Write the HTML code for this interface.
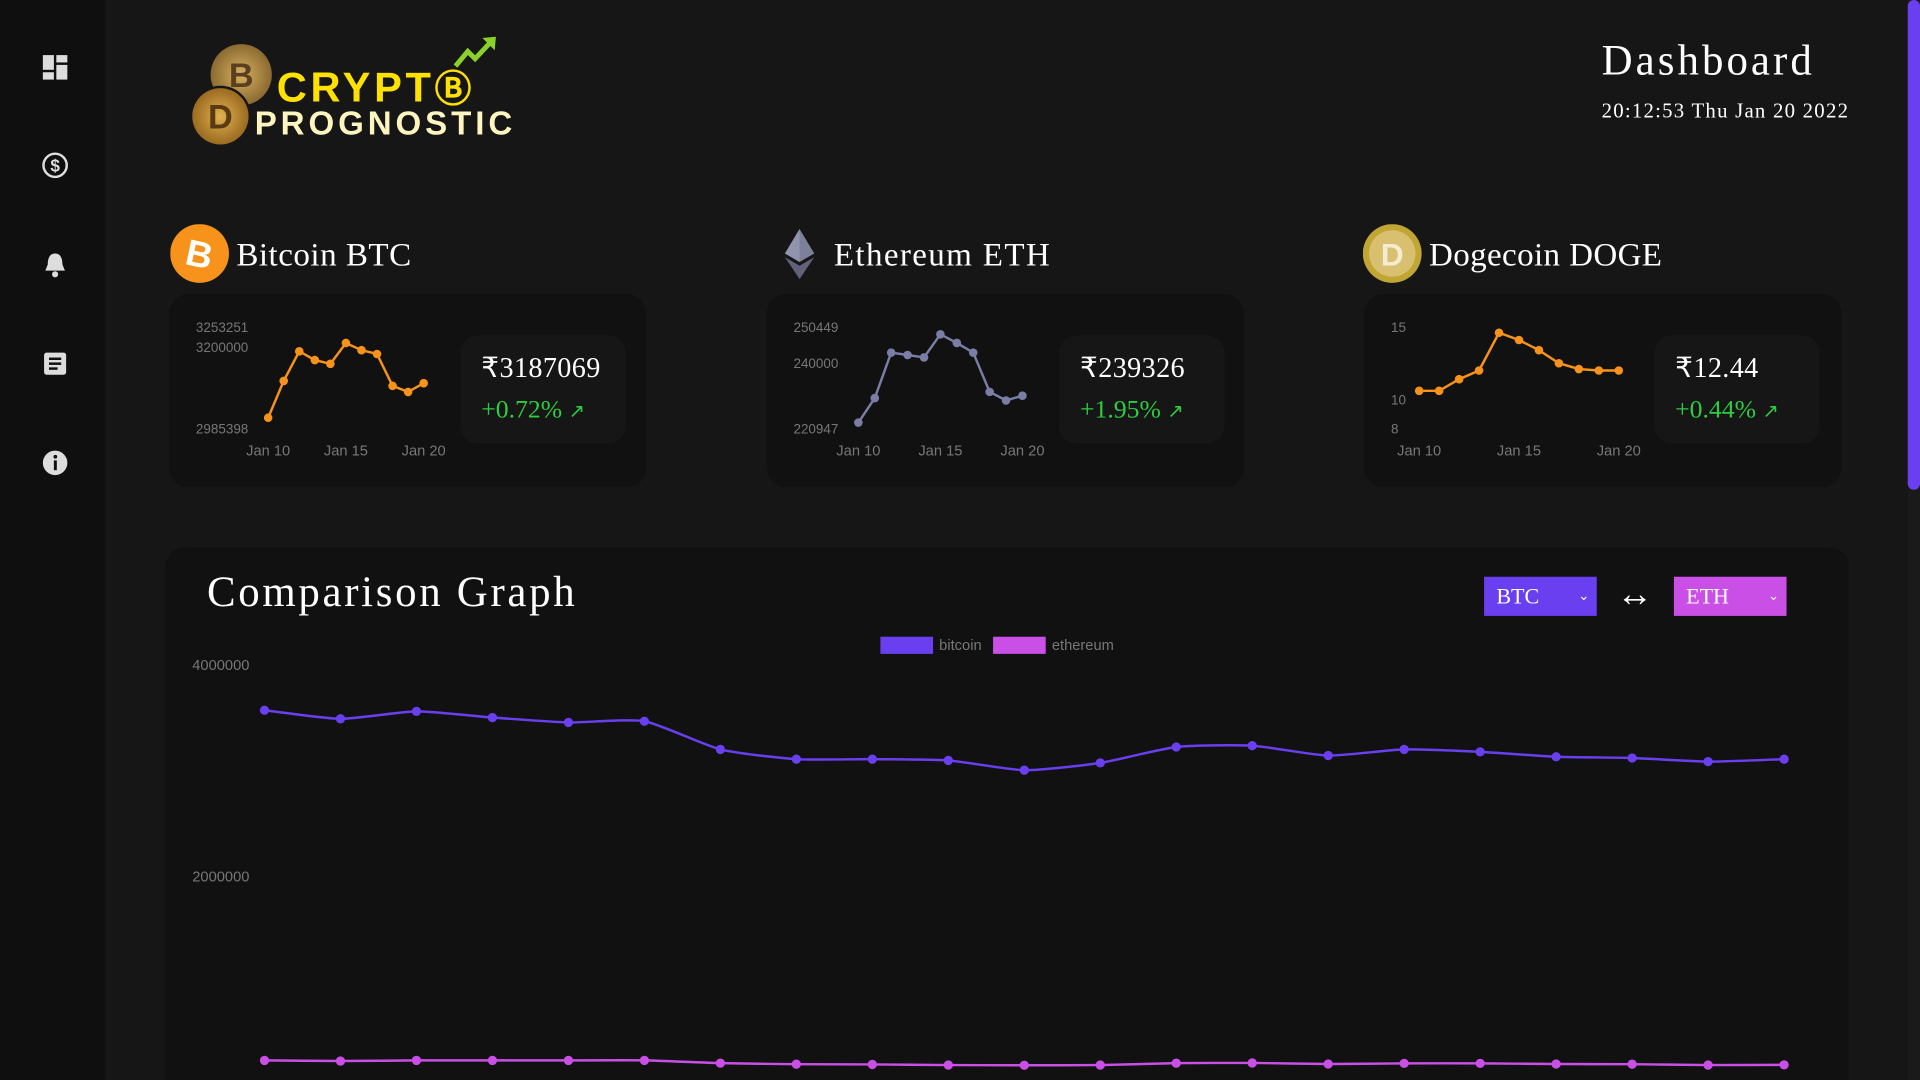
<!DOCTYPE html>
<html><head><meta charset="utf-8">
<style>
html,body{margin:0;padding:0;width:1920px;height:1080px;overflow:hidden;background:#161616;}
#wrap{position:absolute;left:0;top:0;width:1568px;height:882px;overflow:hidden;transform:scale(1.224490);transform-origin:0 0;background:#161616;font-family:"Liberation Sans",sans-serif;}
.abs{position:absolute;}
.serif{font-family:"Liberation Serif",serif;color:#fff;}
.card{position:absolute;top:240px;width:390px;height:158px;background:#111;border-radius:16px;}
.pbox{position:absolute;top:34px;width:135px;height:88px;background:#161616;border-radius:14px;}
.price{position:absolute;left:17px;top:14px;font-size:23px;letter-spacing:0.3px;}
.chg{position:absolute;left:17px;top:48px;font-size:21px;color:#2ecc40;font-family:"Liberation Serif",serif;}
.coin-title{position:absolute;top:193px;font-size:27px;}
svg text{font-family:"Liberation Sans",sans-serif;}
</style></head><body>
<div id="wrap">
<div class="abs" style="left:0;top:0;width:86px;height:882px;background:#0f0f0f">
  <svg class="abs" style="left:34px;top:44px" width="22" height="22"><rect x="1" y="1" width="9" height="12" fill="#ddd"/><rect x="12" y="1" width="9" height="6" fill="#ddd"/><rect x="1" y="15" width="9" height="6" fill="#ddd"/><rect x="12" y="9" width="9" height="12" fill="#ddd"/></svg>
  <svg class="abs" style="left:34px;top:124px" width="22" height="22"><circle cx="11" cy="11" r="9.5" fill="none" stroke="#ddd" stroke-width="2"/><text x="11" y="16" text-anchor="middle" font-size="14" font-weight="bold" fill="#ddd">$</text></svg>
  <svg class="abs" style="left:34px;top:205px" width="22" height="22"><path d="M11 2 C6 2 5 7 5 11 L3 16 L19 16 L17 11 C17 7 16 2 11 2Z" fill="#ddd"/><circle cx="11" cy="19" r="2.5" fill="#ddd"/></svg>
  <svg class="abs" style="left:34px;top:286px" width="22" height="22"><rect x="2" y="2" width="18" height="18" rx="2" fill="#ddd"/><rect x="6" y="6" width="10" height="2" fill="#0f0f0f"/><rect x="6" y="10" width="10" height="2" fill="#0f0f0f"/><rect x="6" y="14" width="7" height="2" fill="#0f0f0f"/></svg>
  <svg class="abs" style="left:34px;top:367px" width="22" height="22"><circle cx="11" cy="11" r="10" fill="#ddd"/><rect x="10" y="9" width="2.4" height="8" fill="#0f0f0f"/><circle cx="11.2" cy="6" r="1.5" fill="#0f0f0f"/></svg>
</div>
<div class="abs" style="right:0;top:0;width:10px;height:882px;background:#1a1a1a"><div style="width:10px;height:400px;background:#6a3ff0;border-radius:5px"></div></div>
<div class="abs" style="left:150px;top:28px;width:280px;height:95px">
  <svg class="abs" style="left:0;top:0" width="80" height="95">
    <defs><radialGradient id="g1"><stop offset="0" stop-color="#d8b060"/><stop offset="1" stop-color="#8a6a30"/></radialGradient>
    <radialGradient id="g2"><stop offset="0" stop-color="#e0b050"/><stop offset="1" stop-color="#9a6a20"/></radialGradient></defs>
    <circle cx="47" cy="33" r="25" fill="url(#g1)"/><text x="47" y="43" text-anchor="middle" font-size="28" font-weight="bold" fill="#5a4020">B</text>
    <circle cx="30" cy="67" r="25" fill="#161616"/><circle cx="30" cy="67" r="23" fill="url(#g2)"/><text x="30" y="77" text-anchor="middle" font-size="28" font-weight="bold" fill="#5a3a10">D</text>
  </svg>
  <div class="abs" style="left:76px;top:20px;font-size:34px;font-weight:bold;color:#ffe100;letter-spacing:3px">CRYPT<span style="font-size:30px">Ⓑ</span></div>
  <svg class="abs" style="left:218px;top:0" width="40" height="30"><path d="M4 26 L14 14 L20 20 L34 5" stroke="#8ad22a" stroke-width="4" fill="none"/><path d="M26 3 L37 2 L36 13Z" fill="#8ad22a"/></svg>
  <div class="abs" style="left:58px;top:58px;font-size:27px;font-weight:bold;color:#fff5c0;letter-spacing:3.2px">PROGNOSTIC</div>
</div>
<div class="abs serif" style="left:1308px;top:30px;font-size:35px;letter-spacing:2.5px">Dashboard</div>
<div class="abs serif" style="left:1308px;top:81px;font-size:17px;letter-spacing:1px">20:12:53 Thu Jan 20 2022</div>

<svg class="abs" style="left:139px;top:183px" width="50" height="50"><circle cx="24" cy="24" r="24" fill="#f7931a"/><text x="24" y="35" text-anchor="middle" font-size="30" font-weight="bold" fill="#fff" transform="rotate(12 24 24)">B</text></svg>
<div class="coin-title serif" style="left:193px;letter-spacing:0.4px">Bitcoin BTC</div>
<svg class="abs" style="left:640px;top:185px" width="28" height="46"><path d="M13 2 L25 22 L13 29 L1 22Z" fill="#7d8099"/><path d="M13 32 L25 25 L13 43 L1 25Z" fill="#5f627a"/><path d="M13 2 L13 29 L1 22Z" fill="#9095ad"/></svg>
<div class="coin-title serif" style="left:681px;letter-spacing:1.1px">Ethereum ETH</div>
<svg class="abs" style="left:1113px;top:183px" width="50" height="50"><circle cx="24" cy="24" r="24" fill="#c2a633"/><circle cx="24" cy="24" r="19" fill="#d8c070"/><text x="24" y="34" text-anchor="middle" font-size="26" font-weight="bold" fill="#f4ecd0">D</text></svg>
<div class="coin-title serif" style="left:1167px;letter-spacing:0.3px">Dogecoin DOGE</div>

<div class="card" style="left:138px">
  <svg id="mini-btc" class="abs" style="left:0;top:0" width="240" height="158"></svg>
  <div class="pbox" style="left:238px"><div class="price serif">₹3187069</div><div class="chg">+0.72% <span style="font-size:16px">↗</span></div></div>
</div>
<div class="card" style="left:626px">
  <svg id="mini-eth" class="abs" style="left:0;top:0" width="240" height="158"></svg>
  <div class="pbox" style="left:239px"><div class="price serif">₹239326</div><div class="chg">+1.95% <span style="font-size:16px">↗</span></div></div>
</div>
<div class="card" style="left:1114px">
  <svg id="mini-doge" class="abs" style="left:0;top:0" width="240" height="158"></svg>
  <div class="pbox" style="left:237px"><div class="price serif">₹12.44</div><div class="chg">+0.44% <span style="font-size:16px">↗</span></div></div>
</div>

<div class="abs" style="left:135px;top:447px;width:1375px;height:450px;background:#111;border-radius:16px">
  <div class="abs serif" style="left:34px;top:17px;font-size:35px;letter-spacing:2.2px">Comparison Graph</div>
  <div class="abs serif" style="left:1077px;top:24px;width:92px;height:32px;background:#6a3ff0;color:#fff;font-size:18px;line-height:32px;box-sizing:border-box;padding-left:10px">BTC<span style="position:absolute;right:6px;font-size:11px;font-family:'Liberation Sans'">⌄</span></div>
  <div class="abs" style="left:1185px;top:22px;font-size:30px;color:#fff">↔</div>
  <div class="abs serif" style="left:1232px;top:24px;width:92px;height:32px;background:#c94fe6;color:#fff;font-size:18px;line-height:32px;box-sizing:border-box;padding-left:10px">ETH<span style="position:absolute;right:6px;font-size:11px;font-family:'Liberation Sans'">⌄</span></div>
</div>
<svg id="cmp" class="abs" style="left:0;top:0" width="1558" height="882"></svg>
</div>
<script>
const days=['Jan 10','Jan 11','Jan 12','Jan 13','Jan 14','Jan 15','Jan 16','Jan 17','Jan 18','Jan 19','Jan 20'];
const btcMini=[3014000,3111000,3189000,3166000,3156000,3211000,3192000,3182000,3098000,3082000,3105000];
const btcTicks=[2985398,3200000,3253251];
const ethMini=[222700,229800,243000,242300,241600,248300,245800,243000,231600,229100,230500];
const ethTicks=[220947,240000,250449];
const dogeMini=[10.6,10.6,11.4,12.0,14.6,14.1,13.4,12.5,12.1,12.0,12.0];
const dogeTicks=[8,10,15];
const xTickLabels=['Jan 10','Jan 15','Jan 20'];
const cmpLabels=['1','2','3','4','5','6','7','8','9','10','11','12','13','14','15','16','17','18','19','20','21'];
const bitcoinSeries=[3572000,3491000,3561000,3503000,3457000,3468000,3202000,3110000,3110000,3098000,3006000,3075000,3225000,3237000,3144000,3202000,3179000,3133000,3121000,3087000,3110000];
const ethereumSeries=[266000,260000,266000,266000,266000,266000,240000,230000,228000,222000,220000,222000,240000,242000,232000,238000,238000,232000,230000,222000,224000];
const cmpTicks=[2000000,4000000];
const NS='http://www.w3.org/2000/svg';
function el(p,tag,at){const e=document.createElementNS(NS,tag);for(const k in at)e.setAttribute(k,at[k]);p.appendChild(e);return e;}
function mini(id,vals,ticks,color,x0,x1,name){
  const svg=document.getElementById(id);
  const mn=ticks[0],mx=ticks[ticks.length-1];
  const y=v=>110-(v-mn)/(mx-mn)*83;
  const x=i=>x0+(x1-x0)*i/(vals.length-1);
  ticks.forEach(t=>{const tx=el(svg,'text',{x:22,y:y(t)+4,'font-size':11,fill:'#777'});tx.textContent=t;
    
    });
  xTickLabels.forEach(l=>{const i=days.indexOf(l);const tx=el(svg,'text',{x:x(i),y:132,'font-size':12,fill:'#777','text-anchor':'middle'});tx.textContent=l;
    
    });
  const pl=el(svg,'polyline',{points:vals.map((v,i)=>x(i)+','+y(v)).join(' '),fill:'none',stroke:color,'stroke-width':2});
  
  
  vals.forEach((v,i)=>{const c=el(svg,'circle',{cx:x(i),cy:y(v),r:3.5,fill:color});
    
    });
}
mini('mini-btc',btcMini,btcTicks,'#f7931a',81,208,'bitcoin');
mini('mini-eth',ethMini,ethTicks,'#7a7ea6',75,209,'ethereum');
mini('mini-doge',dogeMini,dogeTicks,'#f7931a',45,208,'dogecoin');
(function(){
  const svg=document.getElementById('cmp');
  const y=v=>889-v/2000000*173;
  const x=i=>216+(1457-216)*i/(cmpLabels.length-1);
  cmpTicks.forEach(t=>{const tx=el(svg,'text',{x:157,y:y(t)+4,'font-size':12,fill:'#777'});tx.textContent=t;
    
    });
  function series(vals,color,name){
    const pts=vals.map((v,i)=>[x(i),y(v)]);
    let d='M'+pts[0][0]+','+pts[0][1];
    const t=0.1;
    for(let i=0;i<pts.length-1;i++){const p0=pts[Math.max(0,i-1)],p1=pts[i],p2=pts[i+1],p3=pts[Math.min(pts.length-1,i+2)];
      d+=' C'+(p1[0]+(p2[0]-p0[0])*t)+','+(p1[1]+(p2[1]-p0[1])*t)+' '+(p2[0]-(p3[0]-p1[0])*t)+','+(p2[1]-(p3[1]-p1[1])*t)+' '+p2[0]+','+p2[1];}
    const pa=el(svg,'path',{d:d,fill:'none',stroke:color,'stroke-width':2});
    
    
    pts.forEach(p=>{const c=el(svg,'circle',{cx:p[0],cy:p[1],r:3.8,fill:color});
      
      });
  }
  series(bitcoinSeries,'#6a3ff0','bitcoin');
  series(ethereumSeries,'#c94fe6','ethereum');
  const legend=[['bitcoin','#6a3ff0',719],['ethereum','#c94fe6',811]];
  legend.forEach(l=>{const r=el(svg,'rect',{x:l[2],y:520,width:43,height:14,fill:l[1]});
    
    
    const t=el(svg,'text',{x:l[2]+48,y:531,'font-size':12,fill:'#777'});t.textContent=l[0];
    
    });
})();
</script>
</body></html>
